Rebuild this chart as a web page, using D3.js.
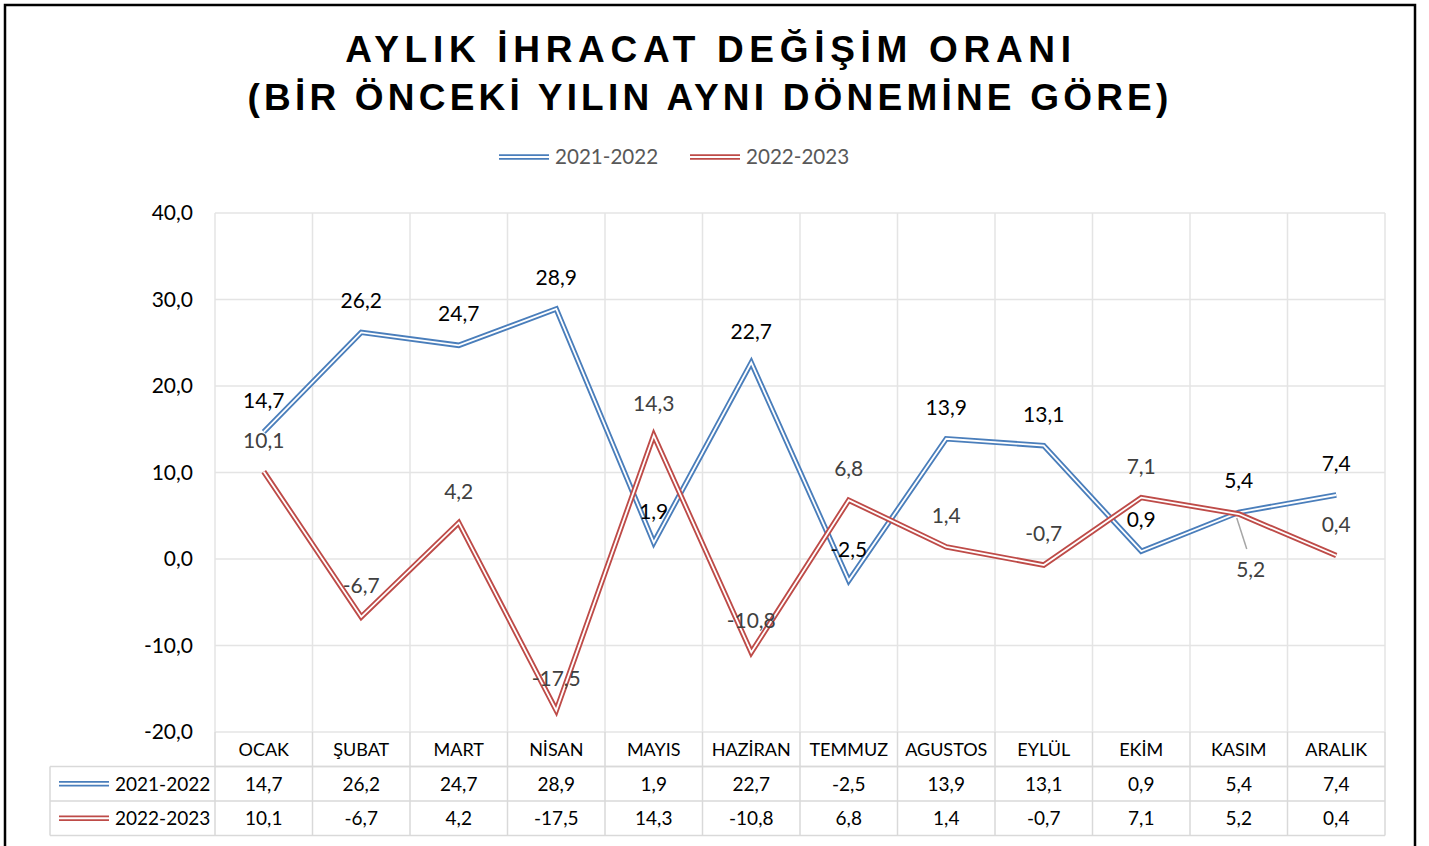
<!DOCTYPE html>
<html>
<head>
<meta charset="utf-8">
<script src="https://cdn.jsdelivr.net/npm/d3@7"></script>
<style>
  body { margin: 0; background: #fff; }
  text { font-family: Lato, "Open Sans", sans-serif; }
</style>
</head>
<body>
<script>
// months and the two series (percent change, same period of previous year)
var months = ['OCAK', 'ŞUBAT', 'MART', 'NİSAN', 'MAYIS', 'HAZİRAN', 'TEMMUZ', 'AGUSTOS', 'EYLÜL', 'EKİM', 'KASIM', 'ARALIK'];
var series1 = [14.7, 26.2, 24.7, 28.9, 1.9, 22.7, -2.5, 13.9, 13.1, 0.9, 5.4, 7.4];
var series2 = [10.1, -6.7, 4.2, -17.5, 14.3, -10.8, 6.8, 1.4, -0.7, 7.1, 5.2, 0.4];
var seriesNames = ['2021-2022', '2022-2023'];
var yTicks = [-20, -10, 0, 10, 20, 30, 40];

var W = 1429, H = 846;
var margin = { top: 213, left: 215, right: 44, bottom: 114 };
var width = W - margin.left - margin.right;
var height = H - margin.top - margin.bottom;

var colors = ['#4a7ebb', '#be4b48'];
var labelColors = ['#000', '#404040'];

var tr = d3.formatLocale({ decimal: ',', thousands: '.', grouping: [3], currency: ['', ''], minus: '-' });
var fmt = tr.format('.1f');

var svg = d3.select('body').append('svg')
    .attr('width', W)
    .attr('height', H);

// outer frame
svg.append('rect')
    .attr('x', 5).attr('y', 5)
    .attr('width', 1410).attr('height', 860)
    .attr('fill', 'none')
    .attr('stroke', '#000')
    .attr('stroke-width', 2.5);

// title
var title = svg.append('text')
    .attr('text-anchor', 'middle')
    .style('font-family', '"Liberation Sans", Arial, sans-serif')
    .style('font-weight', 'bold')
    .style('font-size', '37px')
    .attr('fill', '#000');
title.append('tspan').attr('x', 711).attr('y', 62).style('letter-spacing', '5.7px').text('AYLIK İHRACAT DEĞİŞİM ORANI');
title.append('tspan').attr('x', 710).attr('y', 110).style('letter-spacing', '4.2px').text('(BİR ÖNCEKİ YILIN AYNI DÖNEMİNE GÖRE)');

var g = svg.append('g')
    .attr('transform', 'translate(' + margin.left + ',' + margin.top + ')');

var xScale = d3.scaleBand()
    .domain(months)
    .range([0, width]);

var yScale = d3.scaleLinear()
    .domain([-20, 40])
    .range([height, 0]);

// grid
g.selectAll('.hgrid')
    .data(yTicks)
    .enter().append('line')
    .attr('x1', 0).attr('x2', width)
    .attr('y1', function(d) { return yScale(d); })
    .attr('y2', function(d) { return yScale(d); })
    .attr('stroke', '#e4e4e4')
    .attr('stroke-width', 1.5);

g.selectAll('.vgrid')
    .data(months.concat(['end']))
    .enter().append('line')
    .attr('x1', function(d, i) { return i * xScale.bandwidth(); })
    .attr('x2', function(d, i) { return i * xScale.bandwidth(); })
    .attr('y1', 0).attr('y2', height)
    .attr('stroke', '#e4e4e4')
    .attr('stroke-width', 1.5);

// y axis labels
var yAxis = d3.axisLeft(yScale).tickValues(yTicks).tickFormat(fmt).tickSize(0).tickPadding(22);
g.append('g')
    .call(yAxis)
    .call(function(a) { a.select('.domain').remove(); })
    .selectAll('text')
    .style('font-family', 'Lato, sans-serif')
    .style('font-size', '21px')
    .attr('fill', '#000');

// lines, drawn as double (compound) strokes
var line = d3.line()
    .x(function(d, i) { return xScale(months[i]) + xScale.bandwidth() / 2; })
    .y(function(d) { return yScale(d); });

[series1, series2].forEach(function(s, k) {
    g.append('path')
        .attr('d', line(s))
        .attr('fill', 'none')
        .attr('stroke', colors[k])
        .attr('stroke-width', 5.5)
        .attr('stroke-linejoin', 'miter');
    g.append('path')
        .attr('d', line(s))
        .attr('fill', 'none')
        .attr('stroke', '#fff')
        .attr('stroke-width', 1.8)
        .attr('stroke-linejoin', 'miter');
});

// data labels
[series1, series2].forEach(function(s, k) {
    g.selectAll('.lab' + k)
        .data(s)
        .enter().append('text')
        .attr('text-anchor', 'middle')
        .attr('x', function(d, i) {
            var cx = xScale(months[i]) + xScale.bandwidth() / 2;
            return (k === 1 && i === 10) ? cx + 12 : cx;
        })
        .attr('y', function(d, i) {
            if (k === 1 && i === 10) return yScale(d) + 63;
            return yScale(d) - 24;
        })
        .style('font-size', '21px')
        .attr('fill', labelColors[k])
        .text(function(d) { return fmt(d); });
});

// leader line for the moved 5,2 label
var kx = xScale(months[10]) + xScale.bandwidth() / 2;
g.append('line')
    .attr('x1', kx - 2).attr('y1', yScale(series2[10]) + 4)
    .attr('x2', kx + 8).attr('y2', yScale(series2[10]) + 35)
    .attr('stroke', '#a6a6a6')
    .attr('stroke-width', 1.5);

// legend
var legend = svg.append('g').attr('transform', 'translate(499,157)');
seriesNames.forEach(function(n, k) {
    var lg = legend.append('g').attr('transform', 'translate(' + (k * 191) + ',0)');
    lg.append('line').attr('x1', 0).attr('x2', 50).attr('y1', 0).attr('y2', 0)
        .attr('stroke', colors[k]).attr('stroke-width', 5.5);
    lg.append('line').attr('x1', 0).attr('x2', 50).attr('y1', 0).attr('y2', 0)
        .attr('stroke', '#fff').attr('stroke-width', 1.8);
    lg.append('text').attr('x', 56).attr('y', 7)
        .style('font-size', '20.6px').attr('fill', '#595959').text(n);
});

// data table
var rowH = 34.5;
var tableLeft = 50 - margin.left;
var tg = g.append('g').attr('transform', 'translate(0,' + height + ')');
var bw = xScale.bandwidth();
var tableStroke = '#d9d9d9';

// header row with month names
tg.selectAll('.mh')
    .data(months)
    .enter().append('text')
    .attr('text-anchor', 'middle')
    .attr('x', function(d) { return xScale(d) + bw / 2; })
    .attr('y', rowH / 2 + 7)
    .style('font-size', '18px')
    .attr('fill', '#000')
    .text(function(d) { return d; });

// horizontal table lines
[[0, 1], [tableLeft, 1], [tableLeft, 2], [tableLeft, 3]].forEach(function(r) {
    tg.append('line')
        .attr('x1', r[0]).attr('x2', width)
        .attr('y1', r[1] * rowH).attr('y2', r[1] * rowH)
        .attr('stroke', tableStroke).attr('stroke-width', 1.5);
});
// vertical table lines
months.concat(['end']).forEach(function(d, i) {
    tg.append('line')
        .attr('x1', i * bw).attr('x2', i * bw)
        .attr('y1', 0).attr('y2', 3 * rowH)
        .attr('stroke', tableStroke).attr('stroke-width', 1.5);
});
tg.append('line')
    .attr('x1', tableLeft).attr('x2', tableLeft)
    .attr('y1', rowH).attr('y2', 3 * rowH)
    .attr('stroke', tableStroke).attr('stroke-width', 1.5);

[series1, series2].forEach(function(s, k) {
    var ry = (k + 1) * rowH + rowH / 2;
    tg.append('line').attr('x1', tableLeft + 9).attr('x2', tableLeft + 59)
        .attr('y1', ry).attr('y2', ry)
        .attr('stroke', colors[k]).attr('stroke-width', 5.5);
    tg.append('line').attr('x1', tableLeft + 9).attr('x2', tableLeft + 59)
        .attr('y1', ry).attr('y2', ry)
        .attr('stroke', '#fff').attr('stroke-width', 1.8);
    tg.append('text').attr('x', tableLeft + 65).attr('y', ry + 7)
        .style('font-size', '19px').attr('fill', '#000').text(seriesNames[k]);
    tg.selectAll('.v' + k)
        .data(s)
        .enter().append('text')
        .attr('text-anchor', 'middle')
        .attr('x', function(d, i) { return xScale(months[i]) + bw / 2; })
        .attr('y', ry + 7)
        .style('font-size', '19px')
        .attr('fill', '#000')
        .text(function(d) { return fmt(d); });
});
</script>
</body>
</html>
